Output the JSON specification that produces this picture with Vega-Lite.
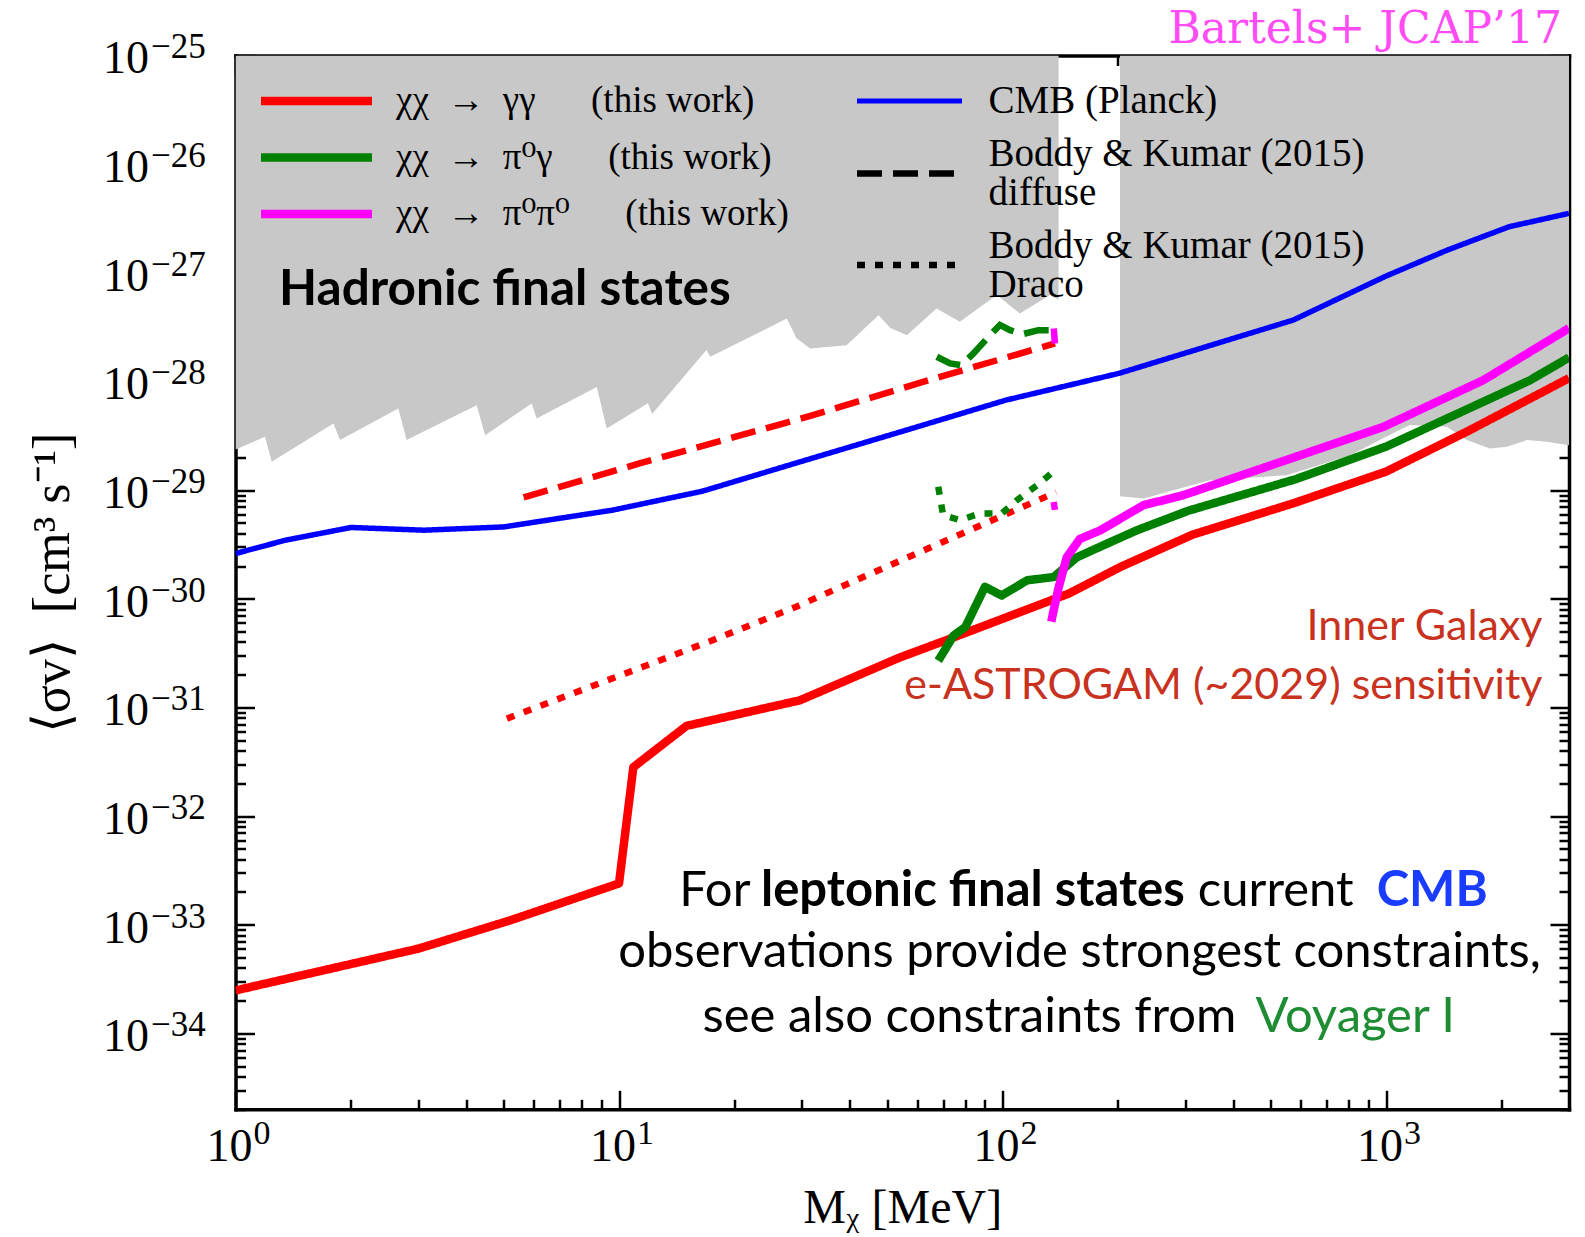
{
  "$schema": "https://vega.github.io/schema/vega-lite/v6.json",
  "width": 1333.5,
  "height": 1053.8,
  "autosize": "none",
  "padding": {"left": 235.5, "top": 55.5, "right": 16, "bottom": 127.7},
  "background": "white",
  "datasets": {
    "curves": [
      {"M": 1, "sv": 2.606e-30, "channel": "CMB", "source": "CMB"},
      {"M": 1.35, "sv": 3.459e-30, "channel": "CMB", "source": "CMB"},
      {"M": 2.0, "sv": 4.529e-30, "channel": "CMB", "source": "CMB"},
      {"M": 3.1, "sv": 4.276e-30, "channel": "CMB", "source": "CMB"},
      {"M": 5.0, "sv": 4.581e-30, "channel": "CMB", "source": "CMB"},
      {"M": 9.6, "sv": 6.531e-30, "channel": "CMB", "source": "CMB"},
      {"M": 16.5, "sv": 9.77e-30, "channel": "CMB", "source": "CMB"},
      {"M": 29, "sv": 1.778e-29, "channel": "CMB", "source": "CMB"},
      {"M": 56, "sv": 3.556e-29, "channel": "CMB", "source": "CMB"},
      {"M": 102, "sv": 6.73e-29, "channel": "CMB", "source": "CMB"},
      {"M": 201, "sv": 1.186e-28, "channel": "CMB", "source": "CMB"},
      {"M": 573, "sv": 3.673e-28, "channel": "CMB", "source": "CMB"},
      {"M": 998, "sv": 9.3e-28, "channel": "CMB", "source": "CMB"},
      {"M": 1445, "sv": 1.618e-27, "channel": "CMB", "source": "CMB"},
      {"M": 2094, "sv": 2.655e-27, "channel": "CMB", "source": "CMB"},
      {"M": 3000, "sv": 3.524e-27, "channel": "CMB", "source": "CMB"},

      {"M": 5.64, "sv": 8.551e-30, "channel": "γγ", "source": "diffuse"},
      {"M": 11.3, "sv": 1.758e-29, "channel": "γγ", "source": "diffuse"},
      {"M": 30.9, "sv": 4.721e-29, "channel": "γγ", "source": "diffuse"},
      {"M": 68.7, "sv": 1.102e-28, "channel": "γγ", "source": "diffuse"},
      {"M": 137, "sv": 2.239e-28, "channel": "γγ", "source": "diffuse"},

      {"M": 67.4, "sv": 1.687e-28, "channel": "π0γ", "source": "diffuse"},
      {"M": 73, "sv": 1.466e-28, "channel": "π0γ", "source": "diffuse"},
      {"M": 78, "sv": 1.413e-28, "channel": "π0γ", "source": "diffuse"},
      {"M": 84, "sv": 1.811e-28, "channel": "π0γ", "source": "diffuse"},
      {"M": 92.8, "sv": 2.667e-28, "channel": "π0γ", "source": "diffuse"},
      {"M": 98.5, "sv": 3.311e-28, "channel": "π0γ", "source": "diffuse"},
      {"M": 104.6, "sv": 2.965e-28, "channel": "π0γ", "source": "diffuse"},
      {"M": 113, "sv": 2.729e-28, "channel": "π0γ", "source": "diffuse"},
      {"M": 124, "sv": 2.965e-28, "channel": "π0γ", "source": "diffuse"},
      {"M": 138.5, "sv": 2.965e-28, "channel": "π0γ", "source": "diffuse"},

      {"M": 136, "sv": 3.076e-28, "channel": "π0π0", "source": "diffuse"},
      {"M": 137, "sv": 2.239e-28, "channel": "π0π0", "source": "diffuse"},

      {"M": 5.1, "sv": 7.889e-32, "channel": "γγ", "source": "Draco"},
      {"M": 17.6, "sv": 4.169e-31, "channel": "γγ", "source": "Draco"},
      {"M": 28.9, "sv": 8.414e-31, "channel": "γγ", "source": "Draco"},
      {"M": 55.7, "sv": 2.344e-30, "channel": "γγ", "source": "Draco"},
      {"M": 138, "sv": 9.55e-30, "channel": "γγ", "source": "Draco"},

      {"M": 68, "sv": 1.072e-29, "channel": "π0γ", "source": "Draco"},
      {"M": 70, "sv": 5.875e-30, "channel": "π0γ", "source": "Draco"},
      {"M": 77.5, "sv": 5.284e-30, "channel": "π0γ", "source": "Draco"},
      {"M": 87, "sv": 6.081e-30, "channel": "π0γ", "source": "Draco"},
      {"M": 99.5, "sv": 6.081e-30, "channel": "π0γ", "source": "Draco"},
      {"M": 109, "sv": 8.072e-30, "channel": "π0γ", "source": "Draco"},
      {"M": 123, "sv": 1.109e-29, "channel": "π0γ", "source": "Draco"},
      {"M": 135.6, "sv": 1.472e-29, "channel": "π0γ", "source": "Draco"},

      {"M": 136, "sv": 7.78e-30, "channel": "π0π0", "source": "Draco"},
      {"M": 137, "sv": 6.531e-30, "channel": "π0π0", "source": "Draco"},

      {"M": 1, "sv": 2.483e-34, "channel": "γγ", "source": "this work"},
      {"M": 3, "sv": 6.026e-34, "channel": "γγ", "source": "this work"},
      {"M": 5.2, "sv": 1.096e-33, "channel": "γγ", "source": "this work"},
      {"M": 10, "sv": 2.399e-33, "channel": "γγ", "source": "this work"},
      {"M": 10.9, "sv": 2.818e-32, "channel": "γγ", "source": "this work"},
      {"M": 15, "sv": 6.761e-32, "channel": "γγ", "source": "this work"},
      {"M": 29.6, "sv": 1.161e-31, "channel": "γγ", "source": "this work"},
      {"M": 54, "sv": 2.884e-31, "channel": "γγ", "source": "this work"},
      {"M": 71.5, "sv": 4.169e-31, "channel": "γγ", "source": "this work"},
      {"M": 149, "sv": 1.117e-30, "channel": "γγ", "source": "this work"},
      {"M": 203, "sv": 1.963e-30, "channel": "γγ", "source": "this work"},
      {"M": 313, "sv": 3.89e-30, "channel": "γγ", "source": "this work"},
      {"M": 575, "sv": 7.586e-30, "channel": "γγ", "source": "this work"},
      {"M": 1000, "sv": 1.479e-29, "channel": "γγ", "source": "this work"},
      {"M": 1650, "sv": 3.548e-29, "channel": "γγ", "source": "this work"},
      {"M": 3000, "sv": 1.072e-28, "channel": "γγ", "source": "this work"},

      {"M": 68, "sv": 2.692e-31, "channel": "π0γ", "source": "this work"},
      {"M": 74.5, "sv": 4.571e-31, "channel": "π0γ", "source": "this work"},
      {"M": 80, "sv": 5.495e-31, "channel": "π0γ", "source": "this work"},
      {"M": 90, "sv": 1.288e-30, "channel": "π0γ", "source": "this work"},
      {"M": 99.5, "sv": 1.072e-30, "channel": "π0γ", "source": "this work"},
      {"M": 116, "sv": 1.479e-30, "channel": "π0γ", "source": "this work"},
      {"M": 136, "sv": 1.585e-30, "channel": "π0γ", "source": "this work"},
      {"M": 156, "sv": 2.399e-30, "channel": "π0γ", "source": "this work"},
      {"M": 180, "sv": 3.02e-30, "channel": "π0γ", "source": "this work"},
      {"M": 224, "sv": 4.266e-30, "channel": "π0γ", "source": "this work"},
      {"M": 305, "sv": 6.457e-30, "channel": "π0γ", "source": "this work"},
      {"M": 581, "sv": 1.259e-29, "channel": "π0γ", "source": "this work"},
      {"M": 1000, "sv": 2.512e-29, "channel": "π0γ", "source": "this work"},
      {"M": 2370, "sv": 1.023e-28, "channel": "π0γ", "source": "this work"},
      {"M": 3000, "sv": 1.66e-28, "channel": "π0γ", "source": "this work"},

      {"M": 134, "sv": 6.166e-31, "channel": "π0π0", "source": "this work"},
      {"M": 140, "sv": 1.259e-30, "channel": "π0π0", "source": "this work"},
      {"M": 147, "sv": 2.399e-30, "channel": "π0π0", "source": "this work"},
      {"M": 159, "sv": 3.548e-30, "channel": "π0π0", "source": "this work"},
      {"M": 180, "sv": 4.266e-30, "channel": "π0π0", "source": "this work"},
      {"M": 233, "sv": 7.261e-30, "channel": "π0π0", "source": "this work"},
      {"M": 296, "sv": 8.974e-30, "channel": "π0π0", "source": "this work"},
      {"M": 581, "sv": 2.023e-29, "channel": "π0π0", "source": "this work"},
      {"M": 984, "sv": 3.819e-29, "channel": "π0π0", "source": "this work"},
      {"M": 1794, "sv": 1.028e-28, "channel": "π0π0", "source": "this work"},
      {"M": 3000, "sv": 3.09e-28, "channel": "π0π0", "source": "this work"}
    ],
    "excluded": [
      {"M": 1, "sv": 2.366e-29, "region": "low"},
      {"M": 1.194, "sv": 3.09e-29, "region": "low"},
      {"M": 1.243, "sv": 1.82e-29, "region": "low"},
      {"M": 1.8, "sv": 4.102e-29, "region": "low"},
      {"M": 1.873, "sv": 2.884e-29, "region": "low"},
      {"M": 2.658, "sv": 5.636e-29, "region": "low"},
      {"M": 2.793, "sv": 2.884e-29, "region": "low"},
      {"M": 4.255, "sv": 6.053e-29, "region": "low"},
      {"M": 4.477, "sv": 3.206e-29, "region": "low"},
      {"M": 5.92, "sv": 6.266e-29, "region": "low"},
      {"M": 6.1, "sv": 4.56e-29, "region": "low"},
      {"M": 8.75, "sv": 8.913e-29, "region": "low"},
      {"M": 9.29, "sv": 3.69e-29, "region": "low"},
      {"M": 11.9, "sv": 6.31e-29, "region": "low"},
      {"M": 12.2, "sv": 5.012e-29, "region": "low"},
      {"M": 16.9, "sv": 1.945e-28, "region": "low"},
      {"M": 17.3, "sv": 1.687e-28, "region": "low"},
      {"M": 27.4, "sv": 3.802e-28, "region": "low"},
      {"M": 29, "sv": 2.512e-28, "region": "low"},
      {"M": 31.5, "sv": 2.014e-28, "region": "low"},
      {"M": 39.2, "sv": 2.158e-28, "region": "low"},
      {"M": 47.5, "sv": 4.074e-28, "region": "low"},
      {"M": 51, "sv": 3.1e-28, "region": "low"},
      {"M": 56.3, "sv": 2.661e-28, "region": "low"},
      {"M": 67.3, "sv": 4.699e-28, "region": "low"},
      {"M": 77.4, "sv": 3.54e-28, "region": "low"},
      {"M": 96.6, "sv": 6.237e-28, "region": "low"},
      {"M": 111, "sv": 4.227e-28, "region": "low"},
      {"M": 133, "sv": 6.237e-28, "region": "low"},
      {"M": 140, "sv": 5.623e-28, "region": "low"},

      {"M": 202.5, "sv": 8.79e-30, "region": "high"},
      {"M": 233, "sv": 8.375e-30, "region": "high"},
      {"M": 347.5, "sv": 1.233e-29, "region": "high"},
      {"M": 551, "sv": 1.371e-29, "region": "high"},
      {"M": 806, "sv": 2.089e-29, "region": "high"},
      {"M": 1055, "sv": 3.412e-29, "region": "high"},
      {"M": 1155, "sv": 3.981e-29, "region": "high"},
      {"M": 1440, "sv": 3.819e-29, "region": "high"},
      {"M": 1624, "sv": 2.884e-29, "region": "high"},
      {"M": 1866, "sv": 2.415e-29, "region": "high"},
      {"M": 2064, "sv": 2.5e-29, "region": "high"},
      {"M": 2328, "sv": 2.884e-29, "region": "high"},
      {"M": 2625, "sv": 2.78e-29, "region": "high"},
      {"M": 3000, "sv": 2.588e-29, "region": "high"}
    ]
  },
  "layer": [
    {
      "data": {"name": "excluded"},
      "mark": {"type": "area", "color": "#c8c8c8", "clip": true, "interpolate": "linear"},
      "encoding": {
        "x": {
          "field": "M", "type": "quantitative",
          "scale": {"type": "log", "domain": [1, 3000]},
          "axis": {
            "orient": "bottom", "values": [1, 10, 100, 1000],
            "ticks": false, "domain": true,
            "labelExpr": "'10'", "labelFontSize": 46,
            "labelAlign": "right", "labelBaseline": "alphabetic",
            "labelOffset": 16.5, "labelPadding": 50.7,
            "title": "Mᵪ [MeV]", "titleFontSize": 48, "titlePadding": 15.7
          }
        },
        "y": {
          "field": "sv", "type": "quantitative",
          "scale": {"type": "log", "domain": [2e-35, 1e-25]},
          "axis": {
            "orient": "left",
            "values": [1e-34, 1e-33, 1e-32, 1e-31, 1e-30, 1e-29, 1e-28, 1e-27, 1e-26, 1e-25],
            "ticks": false, "domain": true,
            "labelExpr": "'10'", "labelFontSize": 46,
            "labelAlign": "right", "labelBaseline": "alphabetic",
            "labelOffset": 17.4, "labelPadding": 87,
            "title": "⟨σv⟩\u2002[cm³ s⁻¹]", "titleFontSize": 52, "titlePadding": 23
          }
        },
        "y2": {"datum": 1e-25},
        "detail": {"field": "region", "type": "nominal"}
      }
    },
    {
      "data": {"name": "curves"},
      "encoding": {
        "x": {
          "field": "M", "type": "quantitative",
          "scale": {"type": "log", "domain": [1, 3000]},
          "axis": {"orient": "top", "values": [1, 10, 100, 1000], "labels": false, "domain": true, "tickSize": -19, "title": null}
        },
        "y": {
          "field": "sv", "type": "quantitative",
          "scale": {"type": "log", "domain": [2e-35, 1e-25]},
          "axis": {"orient": "right", "values": [1e-34, 1e-33, 1e-32, 1e-31, 1e-30, 1e-29, 1e-28, 1e-27, 1e-26, 1e-25], "labels": false, "domain": true, "tickSize": -19, "title": null}
        },
        "color": {
          "field": "channel", "type": "nominal",
          "scale": {"domain": ["γγ", "π0γ", "π0π0", "CMB"], "range": ["#ff0000", "#008000", "#ff00ff", "#0000ff"]},
          "legend": {
            "values": ["γγ", "π0γ", "π0π0"],
            "title": null,
            "orient": "none",
            "legendX": 62.5,
            "legendY": 27,
            "direction": "vertical",
            "padding": 0,
            "symbolType": "stroke",
            "symbolSize": 12321,
            "symbolStrokeWidth": 8.5,
            "labelFont": "Liberation Serif, DejaVu Serif",
            "labelFontSize": 37,
            "labelColor": "black",
            "labelOffset": 61,
            "labelLimit": 0,
            "rowPadding": 18.5,
            "labelExpr": "datum.value === 'γγ' ? 'χχ\u2002→\u2002γγ\u2003\u2002(this work)' : datum.value === 'π0γ' ? 'χχ\u2002→\u2002π⁰γ\u2003\u2002(this work)' : 'χχ\u2002→\u2002π⁰π⁰\u2003\u2002(this work)'",
            "encode": {
              "symbols": {"update": {
                "strokeWidth": {"signal": "datum.value === 'CMB' ? 5 : 8.5"}
              }}
            }
          }
        },
        "strokeDash": {
          "field": "source", "type": "nominal",
          "scale": {"domain": ["this work", "CMB", "diffuse", "Draco"], "range": [[1, 0], [1, 0], [25, 11], [8, 10]]},
          "legend": {
            "values": ["CMB", "diffuse", "Draco"],
            "title": null,
            "orient": "none",
            "legendX": 654.5,
            "legendY": 26,
            "direction": "vertical",
            "padding": 0,
            "symbolType": "stroke",
            "symbolSize": 11025,
            "symbolStrokeWidth": 6.5,
            "symbolStrokeColor": "black",
            "labelFont": "Liberation Serif",
            "labelFontSize": 39,
            "labelColor": "black",
            "labelOffset": 59.6,
            "labelLimit": 0,
            "rowPadding": 13.5,
            "labelExpr": "datum.value === 'CMB' ? 'CMB (Planck)' : datum.value === 'diffuse' ? ['Boddy & Kumar (2015)', 'diffuse'] : ['Boddy & Kumar (2015)', 'Draco']",
            "encode": {
              "symbols": {"update": {
                "stroke": {"signal": "datum.value === 'CMB' ? '#0000ff' : '#000000'"},
                "strokeWidth": {"signal": "datum.value === 'CMB' ? 5 : 6.5"}
              }},
              "labels": {"update": {
                "lineHeight": {"value": 39},
                "dy": {"signal": "datum.value === 'CMB' ? 0 : -19.5"}
              }}
            }
          }
        }
      },
      "layer": [
        {"transform": [{"filter": "datum.source === 'CMB'"}], "mark": {"type": "line", "strokeWidth": 5.5, "clip": true, "strokeJoin": "round"}},
        {"transform": [{"filter": "datum.source === 'diffuse'"}], "mark": {"type": "line", "strokeWidth": 6.5, "clip": true}},
        {"transform": [{"filter": "datum.source === 'Draco'"}], "mark": {"type": "line", "strokeWidth": 6.5, "clip": true}},
        {"transform": [{"filter": "datum.source === 'this work' && datum.channel === 'γγ'"}], "mark": {"type": "line", "strokeWidth": 8.5, "clip": true, "strokeJoin": "round"}},
        {"transform": [{"filter": "datum.source === 'this work' && datum.channel === 'π0γ'"}], "mark": {"type": "line", "strokeWidth": 8.5, "clip": true, "strokeJoin": "round"}},
        {"transform": [{"filter": "datum.source === 'this work' && datum.channel === 'π0π0'"}], "mark": {"type": "line", "strokeWidth": 8.5, "clip": true, "strokeJoin": "round"}}
      ]
    },
    {
      "data": {"values": [{}]},
      "mark": {"type": "text", "text": "Hadronic final states", "font": "Lato", "fontSize": 49.5, "fontWeight": "bold", "align": "left", "baseline": "alphabetic", "color": "black"},
      "encoding": {
        "x": {
          "datum": 1.299, "type": "quantitative", "scale": {"type": "log", "domain": [1, 3000]},
          "axis": {
            "orient": "bottom", "values": [1, 10, 100, 1000],
            "ticks": false, "domain": false,
            "labelExpr": "datum.value == 1 ? '0' : datum.value == 10 ? '1' : datum.value == 100 ? '2' : '3'",
            "labelFontSize": 34, "labelAlign": "left", "labelBaseline": "alphabetic",
            "labelOffset": 17.6, "labelPadding": 34, "title": null
          }
        },
        "y": {
          "datum": 5.04e-28, "type": "quantitative", "scale": {"type": "log", "domain": [2e-35, 1e-25]},
          "axis": {
            "orient": "left",
            "values": [1e-34, 1e-33, 1e-32, 1e-31, 1e-30, 1e-29, 1e-28, 1e-27, 1e-26, 1e-25],
            "ticks": false, "domain": false,
            "labelExpr": "['−25','−26','−27','−28','−29','−30','−31','−32','−33','−34'][-25 - round(log(datum.value)/LN10)]",
            "labelFontSize": 35, "labelAlign": "left", "labelBaseline": "alphabetic",
            "labelOffset": 2.4, "labelPadding": 85, "title": null
          }
        }
      }
    },
    {
      "data": {"values": [{}]},
      "mark": {"type": "text", "text": "Inner Galaxy", "font": "Lato", "fontSize": 43, "align": "right", "baseline": "alphabetic", "color": "#c8321e"},
      "encoding": {
        "x": {
          "datum": 2559, "type": "quantitative", "scale": {"type": "log", "domain": [1, 3000]},
          "axis": {"orient": "bottom", "values": [1, 10, 100, 1000], "labels": false, "domain": false, "tickSize": -19, "title": null}
        },
        "y": {
          "datum": 4.15e-31, "type": "quantitative", "scale": {"type": "log", "domain": [2e-35, 1e-25]},
          "axis": {"orient": "left", "values": [1e-34, 1e-33, 1e-32, 1e-31, 1e-30, 1e-29, 1e-28, 1e-27, 1e-26, 1e-25], "labels": false, "domain": false, "tickSize": -19, "title": null}
        }
      }
    },
    {
      "data": {"values": [{}]},
      "mark": {"type": "text", "text": "e-ASTROGAM (~2029) sensitivity", "font": "Lato", "fontSize": 43, "align": "right", "baseline": "alphabetic", "color": "#c8321e"},
      "encoding": {
        "x": {
          "datum": 2559, "type": "quantitative", "scale": {"type": "log", "domain": [1, 3000]},
          "axis": {"orient": "bottom", "values": [2,3,4,5,6,7,8,9,20,30,40,50,60,70,80,90,200,300,400,500,600,700,800,900,2000], "labels": false, "domain": false, "tickSize": -10, "title": null}
        },
        "y": {
          "datum": 1.205e-31, "type": "quantitative", "scale": {"type": "log", "domain": [2e-35, 1e-25]},
          "axis": {"orient": "left", "values": [2e-35,3e-35,4e-35,5e-35,6e-35,7e-35,8e-35,9e-35,2e-34,3e-34,4e-34,5e-34,6e-34,7e-34,8e-34,9e-34,2e-33,3e-33,4e-33,5e-33,6e-33,7e-33,8e-33,9e-33,2e-32,3e-32,4e-32,5e-32,6e-32,7e-32,8e-32,9e-32,2e-31,3e-31,4e-31,5e-31,6e-31,7e-31,8e-31,9e-31,2e-30,3e-30,4e-30,5e-30,6e-30,7e-30,8e-30,9e-30,2e-29,3e-29,4e-29,5e-29,6e-29,7e-29,8e-29,9e-29,2e-28,3e-28,4e-28,5e-28,6e-28,7e-28,8e-28,9e-28,2e-27,3e-27,4e-27,5e-27,6e-27,7e-27,8e-27,9e-27,2e-26,3e-26,4e-26,5e-26,6e-26,7e-26,8e-26,9e-26], "labels": false, "domain": false, "tickSize": -10, "title": null}
        }
      }
    },
    {
      "data": {"values": [{}]},
      "mark": {"type": "text", "text": "For", "font": "Lato", "fontSize": 49, "align": "left", "baseline": "alphabetic", "color": "black"},
      "encoding": {
        "x": {
          "datum": 14.36, "type": "quantitative", "scale": {"type": "log", "domain": [1, 3000]},
          "axis": {"orient": "top", "values": [2,3,4,5,6,7,8,9,20,30,40,50,60,70,80,90,200,300,400,500,600,700,800,900,2000], "labels": false, "domain": false, "tickSize": -10, "title": null}
        },
        "y": {
          "datum": 1.476e-33, "type": "quantitative", "scale": {"type": "log", "domain": [2e-35, 1e-25]},
          "axis": {"orient": "right", "values": [2e-35,3e-35,4e-35,5e-35,6e-35,7e-35,8e-35,9e-35,2e-34,3e-34,4e-34,5e-34,6e-34,7e-34,8e-34,9e-34,2e-33,3e-33,4e-33,5e-33,6e-33,7e-33,8e-33,9e-33,2e-32,3e-32,4e-32,5e-32,6e-32,7e-32,8e-32,9e-32,2e-31,3e-31,4e-31,5e-31,6e-31,7e-31,8e-31,9e-31,2e-30,3e-30,4e-30,5e-30,6e-30,7e-30,8e-30,9e-30,2e-29,3e-29,4e-29,5e-29,6e-29,7e-29,8e-29,9e-29,2e-28,3e-28,4e-28,5e-28,6e-28,7e-28,8e-28,9e-28,2e-27,3e-27,4e-27,5e-27,6e-27,7e-27,8e-27,9e-27,2e-26,3e-26,4e-26,5e-26,6e-26,7e-26,8e-26,9e-26], "labels": false, "domain": false, "tickSize": -10, "title": null}
        }
      }
    },
    {
      "data": {"values": [{}]},
      "mark": {"type": "text", "text": "leptonic final states", "font": "Lato", "fontSize": 49, "fontWeight": "bold", "align": "left", "baseline": "alphabetic", "color": "black"},
      "encoding": {
        "x": {"datum": 23.46, "type": "quantitative", "scale": {"type": "log", "domain": [1, 3000]}, "axis": null},
        "y": {"datum": 1.476e-33, "type": "quantitative", "scale": {"type": "log", "domain": [2e-35, 1e-25]}, "axis": null}
      }
    },
    {
      "data": {"values": [{}]},
      "mark": {"type": "text", "text": "current", "font": "Lato", "fontSize": 49, "align": "left", "baseline": "alphabetic", "color": "black"},
      "encoding": {
        "x": {"datum": 323.1, "type": "quantitative", "scale": {"type": "log", "domain": [1, 3000]}, "axis": null},
        "y": {"datum": 1.476e-33, "type": "quantitative", "scale": {"type": "log", "domain": [2e-35, 1e-25]}, "axis": null}
      }
    },
    {
      "data": {"values": [{}]},
      "mark": {"type": "text", "text": "CMB", "font": "Lato", "fontSize": 49, "fontWeight": "bold", "align": "left", "baseline": "alphabetic", "color": "#1a3cff"},
      "encoding": {
        "x": {"datum": 945.6, "type": "quantitative", "scale": {"type": "log", "domain": [1, 3000]}, "axis": null},
        "y": {"datum": 1.476e-33, "type": "quantitative", "scale": {"type": "log", "domain": [2e-35, 1e-25]}, "axis": null}
      }
    },
    {
      "data": {"values": [{}]},
      "mark": {"type": "text", "text": "observations provide strongest constraints,", "font": "Lato", "fontSize": 49, "align": "center", "baseline": "alphabetic", "color": "black"},
      "encoding": {
        "x": {"datum": 158.8, "type": "quantitative", "scale": {"type": "log", "domain": [1, 3000]}, "axis": null},
        "y": {"datum": 4.102e-34, "type": "quantitative", "scale": {"type": "log", "domain": [2e-35, 1e-25]}, "axis": null}
      }
    },
    {
      "data": {"values": [{}]},
      "mark": {"type": "text", "text": "see also constraints from", "font": "Lato", "fontSize": 49, "align": "left", "baseline": "alphabetic", "color": "black"},
      "encoding": {
        "x": {"datum": 16.51, "type": "quantitative", "scale": {"type": "log", "domain": [1, 3000]}, "axis": null},
        "y": {"datum": 1.026e-34, "type": "quantitative", "scale": {"type": "log", "domain": [2e-35, 1e-25]}, "axis": null}
      }
    },
    {
      "data": {"values": [{}]},
      "mark": {"type": "text", "text": "Voyager I", "font": "Lato", "fontSize": 49, "align": "left", "baseline": "alphabetic", "color": "#1e8c32"},
      "encoding": {
        "x": {"datum": 456.4, "type": "quantitative", "scale": {"type": "log", "domain": [1, 3000]}, "axis": null},
        "y": {"datum": 1.026e-34, "type": "quantitative", "scale": {"type": "log", "domain": [2e-35, 1e-25]}, "axis": null}
      }
    },
    {
      "data": {"values": [{}]},
      "mark": {"type": "text", "text": "Bartels+ JCAP’17", "font": "DejaVu Serif", "fontSize": 44, "align": "right", "baseline": "alphabetic", "color": "#ff4cf5"},
      "encoding": {
        "x": {"datum": 2877, "type": "quantitative", "scale": {"type": "log", "domain": [1, 3000]}, "axis": null},
        "y": {"datum": 1.295e-25, "type": "quantitative", "scale": {"type": "log", "domain": [2e-35, 1e-25]}, "axis": null}
      }
    }
  ],
  "resolve": {"axis": {"x": "independent", "y": "independent"}},
  "config": {
    "view": {"stroke": null},
    "axis": {
      "labelFont": "Liberation Serif",
      "labelColor": "black",
      "labelOverlap": false,
      "labelFlush": false,
      "labelBound": false,
      "titleFont": "Liberation Serif",
      "titleFontWeight": "normal",
      "titleColor": "black",
      "domainColor": "black",
      "domainWidth": 3.5,
      "domainCap": "square",
      "tickColor": "black",
      "tickWidth": 2.5,
      "grid": false,
      "zindex": 1
    }
  }
}
